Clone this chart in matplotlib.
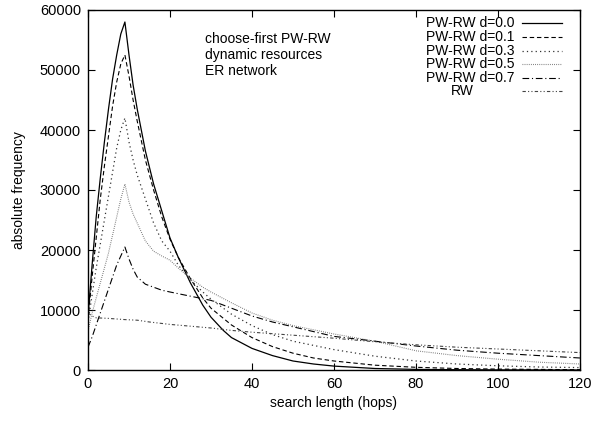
import matplotlib
matplotlib.use("Agg")
from matplotlib import pyplot as plt
import numpy as np

plt.rcParams['font.family'] = ['Liberation Sans', 'DejaVu Sans']

x_d00 = [0, 1, 2, 3, 4, 5, 6, 7, 8, 9, 10, 11, 12, 14, 16, 18, 20, 22, 25, 28, 30, 33, 35,
         40, 45, 50, 55, 60, 70, 80, 90, 100, 110, 120]
y_d00 = [9000, 17500, 25500, 32000, 38000, 43500, 48500, 52500, 56000, 58000, 52500, 47500,
         43500, 36500, 31000, 26500, 22000, 18800, 14500, 10800, 8800, 6600, 5400,
         3600, 2400, 1500, 1000, 650, 250, 100, 50, 20, 10, 0]

x_d01 = [0, 1, 2, 3, 4, 5, 6, 7, 8, 9, 10, 11, 12, 14, 16, 18, 20, 22, 25, 28, 30, 35,
         40, 45, 50, 55, 60, 70, 80, 90, 100, 110, 120]
y_d01 = [8500, 15500, 22000, 28500, 34000, 39000, 44000, 48000, 51000, 52500, 49000, 45000,
         41500, 35000, 30000, 25500, 21800, 18800, 15200, 12000, 10300, 7500,
         5400, 3900, 2800, 2000, 1500, 800, 450, 250, 150, 100, 50]

x_d03 = [0, 1, 2, 3, 4, 5, 6, 7, 8, 9, 10, 11, 12, 13, 14, 16, 18, 20, 22, 25, 28, 30, 35,
         40, 45, 50, 55, 60, 70, 80, 90, 100, 110, 120]
y_d03 = [8000, 12500, 17000, 21000, 25000, 29000, 33000, 37000, 40000, 42000, 38000, 35000,
         32500, 30500, 28500, 24500, 21500, 19800, 17500, 15000, 13000, 11800, 9300,
         7400, 5900, 4800, 4100, 3400, 2300, 1500, 1000, 700, 500, 400]

x_d05 = [0, 1, 2, 3, 4, 5, 6, 7, 8, 9, 10, 11, 12, 14, 16, 18, 20, 22, 25, 28, 30, 35,
         40, 45, 50, 55, 60, 70, 80, 90, 100, 110, 120]
y_d05 = [6500, 9500, 12000, 14500, 17000, 19500, 22500, 25500, 28500, 31000, 28000, 26000,
         24500, 21500, 19800, 19000, 18300, 17000, 15300, 13800, 13000, 11200,
         9500, 8300, 7400, 6700, 6000, 4800, 3200, 2400, 1800, 1300, 1000]

x_d07 = [0, 1, 2, 3, 4, 5, 6, 7, 8, 9, 10, 11, 12, 14, 16, 18, 20, 25, 30, 35,
         40, 45, 50, 60, 70, 80, 90, 100, 110, 120]
y_d07 = [3800, 5500, 7500, 9500, 11500, 13500, 15500, 17500, 19000, 20500, 18500, 16800,
         15500, 14300, 13800, 13300, 13000, 12300, 11600, 10300,
         9000, 8000, 7200, 5600, 4800, 4000, 3300, 2800, 2400, 2000]

x_rw = [0, 1, 2, 5, 9, 12, 15, 20, 25, 30, 35, 40, 50, 60, 70, 80, 90, 100, 110, 120]
y_rw = [9500, 9000, 8700, 8600, 8400, 8300, 8000, 7600, 7300, 7000, 6600, 6300, 5800,
        5300, 4700, 4200, 3800, 3500, 3200, 2900]

labels = ['PW-RW d=0.0', 'PW-RW d=0.1', 'PW-RW d=0.3', 'PW-RW d=0.5', 'PW-RW d=0.7', 'RW']

styles = [
    dict(color='black', linestyle='-', lw=0.9),
    dict(color='black', linestyle=(0, (4, 2.5)), lw=0.8),
    dict(color='#333333', linestyle=(0, (1, 2.5)), lw=0.9),
    dict(color='#666666', linestyle=(0, (0.7, 1.2)), lw=0.8),
    dict(color='black', linestyle=(0, (6, 2.5, 1, 2.5)), lw=0.8),
    dict(color='#444444', linestyle=(0, (3, 2, 1, 2, 1, 2)), lw=0.8),
]

series = [(x_d00, y_d00), (x_d01, y_d01), (x_d03, y_d03),
          (x_d05, y_d05), (x_d07, y_d07), (x_rw, y_rw)]

fig = plt.figure(figsize=(5.93, 4.22), dpi=100)
ax = fig.add_axes([88 / 593, 52 / 422, 492 / 593, 360 / 422])

for (xs, ys), st in zip(series, styles):
    ax.plot(xs, ys, **st)

ax.set_xlim(0, 120)
ax.set_ylim(0, 60000)
ax.set_xticks(np.arange(0, 121, 20))
ax.set_yticks(np.arange(0, 60001, 10000))
ax.tick_params(direction='in', top=True, right=True, length=5, width=0.8,
               labelsize=10.5, pad=5)
for s in ax.spines.values():
    s.set_linewidth(1.0)

ax.set_xlabel('search length (hops)', fontsize=10, labelpad=4)
ax.set_ylabel('absolute frequency', fontsize=10, labelpad=10)

ax.text(0.238, 0.94, 'choose-first PW-RW\ndynamic resources\nER network',
        transform=ax.transAxes, fontsize=10, va='top', ha='left', linespacing=1.2)

# gnuplot-style key, drawn by hand
for i, (lab, st) in enumerate(zip(labels, styles)):
    yk = 0.963 - i * 0.0378
    if lab == 'RW':
        ax.text(0.785, yk, lab, transform=ax.transAxes, fontsize=10,
                ha='right', va='center')
    else:
        ax.text(0.867, yk, lab, transform=ax.transAxes, fontsize=10,
                ha='right', va='center')
    ax.plot([0.883, 0.963], [yk, yk], transform=ax.transAxes, **st)

fig.savefig('out.png', dpi=100)
